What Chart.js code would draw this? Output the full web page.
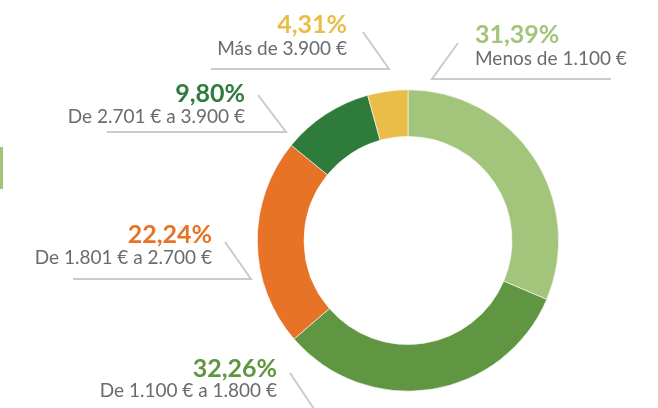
<!DOCTYPE html>
<html>
<head>
<meta charset="utf-8">
<script src="https://cdn.jsdelivr.net/npm/chart.js@4"></script>
<style>
html,body{margin:0;padding:0;background:#fff;}
#wrap{position:relative;width:658px;height:408px;overflow:hidden;}
#bar{position:absolute;left:0;top:147px;width:3px;height:42px;background:#a3c57b;}
canvas{display:block;}
</style>
</head>
<body>
<div id="wrap">
<div id="bar"></div>
<canvas id="c" width="658" height="408"></canvas>
</div>
<script>
const categories = ['Menos de 1.100 €', 'De 1.100 € a 1.800 €', 'De 1.801 € a 2.700 €', 'De 2.701 € a 3.900 €', 'Más de 3.900 €'];
const shares = [31.39, 32.26, 22.24, 9.80, 4.31];
const shareLabels = ['31,39%', '32,26%', '22,24%', '9,80%', '4,31%'];
const colors = ['#a3c57b', '#609641', '#e67326', '#2e7b3c', '#e9bd48'];

// callout layout (positions of text and leader lines), per category
const callouts = [
  {align:'left',  x:475, pctY:43,  subY:65,  line:[[458,43],[432,79],[611,79]]},
  {align:'right', x:277, pctY:377, subY:397, line:[[290,373],[316,412],[520,412]]},
  {align:'right', x:212, pctY:243, subY:264, line:[[225,242],[251,279],[73,279]]},
  {align:'right', x:245, pctY:102, subY:123, line:[[258,95],[286,132],[107,132]]},
  {align:'right', x:347, pctY:33,  subY:55,  line:[[363,32],[389,69],[211,69]]}
];

const calloutPlugin = {
  id: 'callouts',
  afterDraw(chart) {
    const ctx = chart.ctx;
    const labels = chart.data.labels;
    const ds = chart.data.datasets[0];
    ctx.save();
    labels.forEach((lab, i) => {
      const c = callouts[i];
      ctx.strokeStyle = '#cbcbcb';
      ctx.lineWidth = 2;
      ctx.beginPath();
      c.line.forEach((p, k) => k ? ctx.lineTo(p[0], p[1]) : ctx.moveTo(p[0], p[1]));
      ctx.stroke();
      ctx.textAlign = c.align;
      ctx.textBaseline = 'alphabetic';
      ctx.fillStyle = ds.backgroundColor[i];
      ctx.font = 'bold 25px Lato';
      ctx.fillText(shareLabels[i], c.x, c.pctY);
      ctx.fillStyle = '#6a6b6e';
      ctx.font = '19px Lato';
      ctx.fillText(lab, c.x, c.subY);
    });
    ctx.restore();
  }
};

new Chart(document.getElementById('c'), {
  type: 'doughnut',
  data: {
    labels: categories,
    datasets: [{
      data: shares,
      backgroundColor: colors,
      borderColor: '#ffffff',
      borderWidth: 0.6,
      hoverOffset: 0
    }]
  },
  options: {
    responsive: false,
    animation: false,
    cutout: '69%',
    layout: { padding: { left: 257, right: 99, top: 89, bottom: 16 } },
    plugins: {
      legend: { display: false },
      tooltip: { enabled: false }
    }
  },
  plugins: [calloutPlugin]
});
</script>
</body>
</html>
